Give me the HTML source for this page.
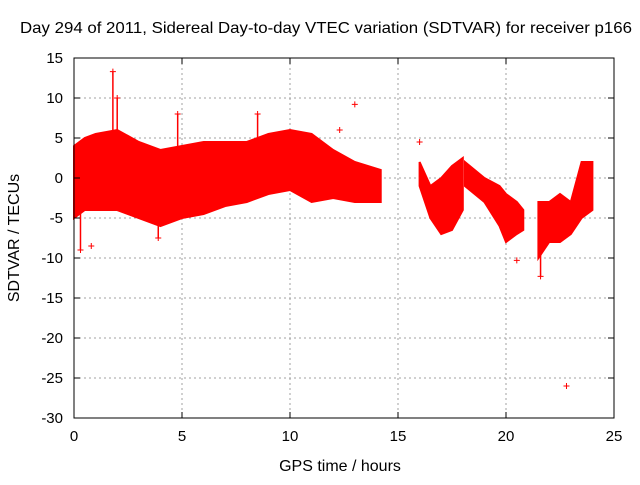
<!DOCTYPE html>
<html><head><meta charset="utf-8"><style>
body{margin:0;background:#fff;}
svg text{font-family:"Liberation Sans",sans-serif;font-size:15px;fill:#000;}
svg text.big{font-size:16px;}
</style></head><body>
<svg id="chart" width="640" height="480" xmlns="http://www.w3.org/2000/svg">
<rect width="640" height="480" fill="#fff"/>
<text class="big" x="326" y="33" text-anchor="middle" textLength="612" lengthAdjust="spacingAndGlyphs">Day 294 of 2011, Sidereal Day-to-day VTEC variation (SDTVAR) for receiver p166</text>
<text class="big" x="340" y="471" text-anchor="middle">GPS time / hours</text>
<text class="big" transform="translate(19,238) rotate(-90)" text-anchor="middle">SDTVAR / TECUs</text>
<g id="grid"></g>
<g id="marks"></g>
<rect x="74" y="58" width="540" height="360" fill="none" stroke="#000" stroke-width="1"/>
<g id="ticks"></g>
</svg>
<script>
const xTicks=[0,5,10,15,20,25];
const yTicks=[15,10,5,0,-5,-10,-15,-20,-25,-30];
const seg1Hours=[0,0.5,1,2,3,4,5,6,7,8,9,10,11,12,13,14.2];
const seg1Upper=[4,5,5.5,6,4.5,3.5,4,4.5,4.5,4.5,5.5,6,5.5,3.5,2,1];
const seg1Lower=[-5,-4,-4,-4,-5,-6,-5,-4.5,-3.5,-3,-2,-1.5,-3,-2.5,-3,-3];
const seg2Hours=[16,16.5,17,17.5,18];
const seg2Upper=[2,-1,0,1.5,2.5];
const seg2Lower=[-1,-5,-7,-6.5,-4];
const seg3Hours=[18.1,19,19.7,20,20.5,20.8];
const seg3Upper=[2,0,-1,-2,-3,-4];
const seg3Lower=[-1,-3,-6,-8,-7,-6.5];
const seg4Hours=[21.5,22,22.5,23,23.5,24];
const seg4Upper=[-3,-3,-2,-3,2,2];
const seg4Lower=[-10,-8,-8,-7,-5,-4];
const outlierHours=[1.8,2,4.8,13,22.8,0.8,20.5,21.6,0.3,8.5,12.3,16,3.9];
const outlierValues=[13.3,10,8,9.2,-26,-8.5,-10.3,-12.3,-9,8,6,4.5,-7.5];
const outlierSpike=[1,1,1,0,0,0,0,1,1,1,0,0,1];

const X=h=>74+h*21.6, Y=v=>178-v*8;
const NS="http://www.w3.org/2000/svg";
const grid=document.getElementById('grid'),ticks=document.getElementById('ticks'),marks=document.getElementById('marks');
function mk(tag,attrs,parent){const e=document.createElementNS(NS,tag);for(const k in attrs)e.setAttribute(k,attrs[k]);parent.appendChild(e);return e;}
xTicks.forEach(t=>{
 if(t>0&&t<25){const g=mk('line',{x1:X(t),x2:X(t),y1:58,y2:418,stroke:'#a0a0a0','stroke-dasharray':'2,3'},grid);
 
 }
 mk('line',{x1:X(t),x2:X(t),y1:418,y2:412,stroke:'#000'},ticks);
 mk('line',{x1:X(t),x2:X(t),y1:58,y2:64,stroke:'#000'},ticks);
 const tx=mk('text',{x:X(t),y:441,'text-anchor':'middle'},ticks);tx.textContent=t;
 
 
});
yTicks.forEach(t=>{
 if(t<15&&t>-30){const g=mk('line',{x1:74,x2:614,y1:Y(t),y2:Y(t),stroke:'#a0a0a0','stroke-dasharray':'2,3'},grid);
 
 }
 mk('line',{x1:74,x2:80,y1:Y(t),y2:Y(t),stroke:'#000'},ticks);
 mk('line',{x1:614,x2:608,y1:Y(t),y2:Y(t),stroke:'#000'},ticks);
 const tx=mk('text',{x:63,y:Y(t)+5,'text-anchor':'end'},ticks);tx.textContent=t;
 
 
});
function band(hs,up,lo,name){
 let d='M'+hs.map((h,i)=>X(h)+','+Y(up[i])).join('L');
 for(let i=hs.length-1;i>=0;i--)d+='L'+X(hs[i])+','+Y(lo[i]);
 const p=mk('path',{d:d+'Z',fill:'#ff0000',stroke:'#ff0000','stroke-width':2},marks);
 
 
}
band(seg1Hours,seg1Upper,seg1Lower,'series-band-1');
band(seg2Hours,seg2Upper,seg2Lower,'series-band-2');
band(seg3Hours,seg3Upper,seg3Lower,'series-band-3');
band(seg4Hours,seg4Upper,seg4Lower,'series-band-4');
outlierHours.forEach((h,i)=>{
 const x=X(h),y=Y(outlierValues[i]);
 const p=mk('path',{d:`M${x-3},${y}H${x+3}M${x},${y-3}V${y+3}`,stroke:'#ff0000','stroke-width':1},marks);
 
 
 if(outlierSpike[i]){
  const l=mk('line',{x1:x,x2:x,y1:y,y2:Y(outlierValues[i]>0?4:-4),stroke:'#ff0000','stroke-width':1.5},marks);
  
  
 }
});
</script>
</body></html>
